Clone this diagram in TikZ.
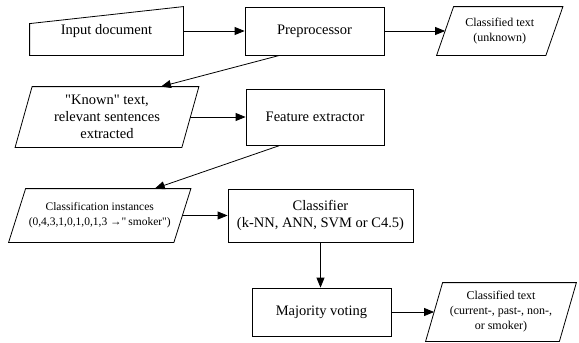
\documentclass[tikz,border=0pt]{standalone}
\usepackage{fontspec}
\setmainfont{Liberation Serif}
\newfontfamily\tms{Liberation Serif}
\usetikzlibrary{arrows.meta}

\begin{document}
\begin{tikzpicture}[x=1pt, y=-1pt, line width=0.8pt,
	every node/.style={font=\tms\fontsize{14.5}{17}\selectfont, align=center, inner sep=2pt},
	proc/.style={draw, minimum height=48pt},
	data/.style={font=\tms\fontsize{12}{15}\selectfont},
	arr/.style={-{Triangle[length=10pt,width=8pt]}}]
	\useasboundingbox (0,0) rectangle (579,343);
	% first row
	\node (inp) [minimum width=153pt, minimum height=48pt] at (106.5,31) {\raisebox{-5pt}{Input document}};
	\draw (inp.south west) -- (inp.south east) -- (inp.north east) -- ([yshift=-17pt]inp.north west) -- cycle;
	\node[proc, minimum width=139pt] (pre) at (314.5,31) {Preprocessor};
	\node[data, minimum width=108.5pt, minimum height=48pt] (unk) at (499.75,31) {Classified text\\(unknown)};
	% second row
	\node (known) [minimum width=166pt, minimum height=60pt] at (107,117) {\textquotedbl Known\textquotedbl{} text,\\relevant sentences\\extracted};
	\node[proc, minimum width=138pt, minimum height=56pt] (feat) at (315,117) {Feature extractor};
	% third row
	\node[data, font=\tms\fontsize{11.5}{15}\selectfont, minimum width=164.5pt, minimum height=53pt] (inst) at (99.75,215.5)
		{Classification instances\\(0,4,3,1,0,1,0,1,3 →\textquotedbl\,smoker\textquotedbl)};
	\node[proc, minimum width=185pt, minimum height=53pt] (cls) at (320.5,215.5) {Classifier\\(k-NN, ANN, SVM or C4.5)};
	% last row
	\node[proc, minimum width=139pt] (maj) at (321.5,312) {Majority voting};
	\node[data, minimum width=133pt, minimum height=58pt] (out) at (501,312) {Classified text\\(current-, past-, non-,\\or smoker)};
	% slanted data boxes
	\foreach \n in {unk,known,inst,out}
		\draw ([xshift=8.5pt]\n.north west) -- ([xshift=8.5pt]\n.north east) -- ([xshift=-8.5pt]\n.south east) -- ([xshift=-8.5pt]\n.south west) -- cycle;
	% arrows
	\draw[arr] (inp) -- (pre);
	\draw[arr] (pre) -- (unk);
	\draw[arr] ([xshift=-35pt]pre.south) -- ([xshift=54pt]known.north);
	\draw[arr] (known) -- (feat);
	\draw[arr] ([xshift=-35pt]feat.south) -- ([xshift=55pt]inst.north);
	\draw[arr] (inst) -- (cls);
	\draw[arr] (cls.south) -- (cls.south |- maj.north);
	\draw[arr] (maj) -- (out);
\end{tikzpicture}
\end{document}
